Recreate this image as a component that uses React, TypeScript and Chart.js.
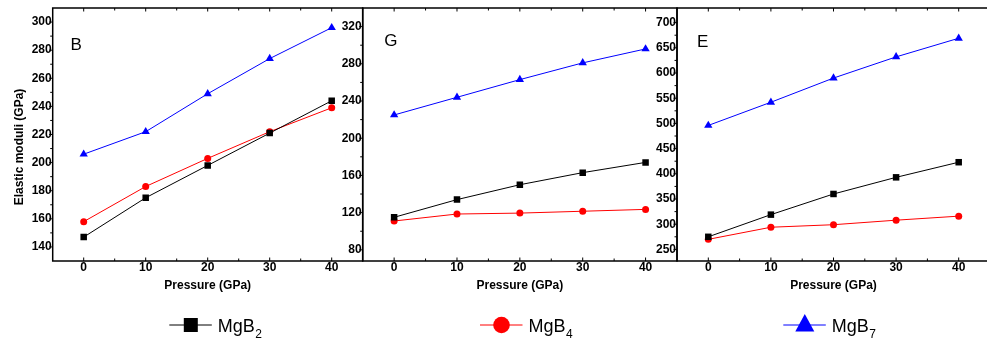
import React, { useEffect, useRef } from 'react';
import { Chart, registerables } from 'chart.js';

Chart.register(...registerables);

// ---------- data ----------
const pressureGPa = [0, 10, 20, 30, 40];
const xTickValues = [0, 10, 20, 30, 40];
const xMinorValues = [5, 15, 25, 35];

const seriesBase = ['MgB', 'MgB', 'MgB'];
const seriesSub = ['2', '4', '7'];
const panelLetters = ['B', 'G', 'E'];
const yAxisTitle = 'Elastic moduli (GPa)';
const xAxisTitle = 'Pressure (GPa)';

// Bulk modulus B
const bulkMgB2 = [147, 175, 198, 221, 244];
const bulkMgB4 = [158, 183, 203, 222, 239];
const bulkMgB7 = [206, 222, 249, 274, 296];

// Shear modulus G
const shearMgB2 = [115, 134, 150, 163, 174];
const shearMgB4 = [111, 118.5, 119.5, 121.5, 123.5];
const shearMgB7 = [225, 244, 263, 281, 296];

// Young's modulus E
const youngMgB2 = [275, 319, 360, 393, 423];
const youngMgB4 = [270, 294, 299, 308, 316];
const youngMgB7 = [496, 542, 590, 632, 669];

const bulkTicks = [140, 160, 180, 200, 220, 240, 260, 280, 300];
const bulkMinor = [150, 170, 190, 210, 230, 250, 270, 290];
const shearTicks = [80, 120, 160, 200, 240, 280, 320];
const shearMinor = [100, 140, 180, 220, 260, 300];
const youngTicks = [250, 300, 350, 400, 450, 500, 550, 600, 650, 700];
const youngMinor = [275, 325, 375, 425, 475, 525, 575, 625, 675];

// ---------- styling / layout ----------
const FONT = "'Liberation Sans', Arial, Helvetica, sans-serif";
const SERIES_COLORS = ['#000000', '#ff0000', '#0000ff'];
const SERIES_POINT = ['rect', 'circle', 'triangle'];
const SERIES_RADIUS = [4.6, 3.5, 4.8];

const PANEL_VALUES = [
  [bulkMgB2, bulkMgB4, bulkMgB7],
  [shearMgB2, shearMgB4, shearMgB7],
  [youngMgB2, youngMgB4, youngMgB7],
];
const PANEL_MAJOR = [bulkTicks, shearTicks, youngTicks];
const PANEL_MINOR = [bulkMinor, shearMinor, youngMinor];

const CANVAS_W = 1000;
const CANVAS_H = 345;

const PANEL_LAYOUT = [
  { areaLeft: 52.7, areaRight: 362.7, yMin: 130, yMax: 310, letterDx: 17.7, letterY: 50 },
  { areaLeft: 362.7, areaRight: 677, yMin: 68, yMax: 340, letterDx: 21.5, letterY: 45.7 },
  { areaLeft: 677, areaRight: 990, yMin: 227, yMax: 729, letterDx: 20, letterY: 46.7 },
];

const LEGEND_X = [169.3, 480, 783.3];

function drawLegendMarker(ctx: CanvasRenderingContext2D, kind: string, cx: number, cy: number, color: string) {
  ctx.fillStyle = color;
  if (kind === 'rect') {
    ctx.fillRect(cx - 7, cy - 7, 14, 14);
  } else if (kind === 'circle') {
    ctx.beginPath();
    ctx.arc(cx, cy, 8.3, 0, Math.PI * 2);
    ctx.fill();
  } else {
    ctx.beginPath();
    ctx.moveTo(cx, cy - 11);
    ctx.lineTo(cx - 9.5, cy + 6.5);
    ctx.lineTo(cx + 9.5, cy + 6.5);
    ctx.closePath();
    ctx.fill();
  }
}

function framePlugin(idx: number) {
  const L = PANEL_LAYOUT[idx];
  return {
    id: 'frame' + idx,
    afterDraw(chart: any) {
      const { ctx, chartArea: a, scales } = chart;
      const xs = scales.x;
      const ys = scales.y;
      ctx.save();
      ctx.strokeStyle = '#000';
      ctx.lineWidth = 1.5;
      ctx.strokeRect(a.left, a.top, a.right - a.left, a.bottom - a.top);

      ctx.lineWidth = 1;
      ctx.beginPath();
      for (const v of xTickValues) {
        const px = xs.getPixelForValue(v);
        ctx.moveTo(px, a.bottom);
        ctx.lineTo(px, a.bottom - 3.5);
        ctx.moveTo(px, a.top);
        ctx.lineTo(px, a.top + 3.5);
      }
      for (const v of xMinorValues) {
        const px = xs.getPixelForValue(v);
        ctx.moveTo(px, a.bottom);
        ctx.lineTo(px, a.bottom - 2.5);
        ctx.moveTo(px, a.top);
        ctx.lineTo(px, a.top + 2.5);
      }
      for (const v of PANEL_MAJOR[idx]) {
        const py = ys.getPixelForValue(v);
        ctx.moveTo(a.left, py);
        ctx.lineTo(a.left - 3.5, py);
      }
      for (const v of PANEL_MINOR[idx]) {
        const py = ys.getPixelForValue(v);
        ctx.moveTo(a.left, py);
        ctx.lineTo(a.left - 2.5, py);
      }
      ctx.stroke();

      ctx.fillStyle = '#000';
      ctx.font = `17px ${FONT}`;
      ctx.textAlign = 'left';
      ctx.textBaseline = 'alphabetic';
      ctx.fillText(panelLetters[idx], a.left + L.letterDx, L.letterY);

      if (idx === 0) {
        // y-axis title
        ctx.save();
        ctx.translate(20, 147);
        ctx.rotate(-Math.PI / 2);
        ctx.font = `bold 12px ${FONT}`;
        ctx.textAlign = 'center';
        ctx.textBaseline = 'middle';
        ctx.fillStyle = '#000';
        ctx.fillText(yAxisTitle, 0, 0);
        ctx.restore();

        // legend
        LEGEND_X.forEach((lx, i) => {
          const cy = 325;
          ctx.strokeStyle = SERIES_COLORS[i];
          ctx.lineWidth = 1;
          ctx.beginPath();
          ctx.moveTo(lx, cy);
          ctx.lineTo(lx + 42.5, cy);
          ctx.stroke();
          drawLegendMarker(ctx, SERIES_POINT[i], lx + 21.5, cy, SERIES_COLORS[i]);
          ctx.fillStyle = '#000';
          ctx.textAlign = 'left';
          ctx.textBaseline = 'alphabetic';
          ctx.font = `18px ${FONT}`;
          const tx = lx + 48.5;
          ctx.fillText(seriesBase[i], tx, 332);
          const w = ctx.measureText(seriesBase[i]).width;
          ctx.font = `12px ${FONT}`;
          ctx.fillText(seriesSub[i], tx + w + 0.5, 338);
        });
      }
      ctx.restore();
    },
  };
}

function buildConfig(idx: number): any {
  const L = PANEL_LAYOUT[idx];
  const values = PANEL_VALUES[idx];
  return {
    type: 'line',
    data: {
      datasets: values.map((arr, i) => ({
        label: seriesBase[i] + seriesSub[i],
        data: pressureGPa.map((p, j) => ({ x: p, y: arr[j] })),
        borderColor: SERIES_COLORS[i],
        backgroundColor: SERIES_COLORS[i],
        borderWidth: 1,
        pointStyle: SERIES_POINT[i],
        pointRadius: SERIES_RADIUS[i],
        pointBorderWidth: 0,
        tension: 0,
        fill: false,
      })),
    },
    options: {
      responsive: false,
      animation: false,
      devicePixelRatio: 1,
      events: [],
      layout: { padding: { left: 0, top: 8, right: CANVAS_W - L.areaRight, bottom: 0 } },
      plugins: { legend: { display: false }, tooltip: { enabled: false } },
      scales: {
        x: {
          type: 'linear',
          min: -5,
          max: 45,
          afterBuildTicks: (s: any) => {
            s.ticks = xTickValues.map((v) => ({ value: v }));
          },
          afterFit: (s: any) => {
            s.height = 84;
          },
          grid: { display: false, drawTicks: false },
          border: { display: false },
          ticks: {
            color: '#000',
            font: { family: FONT, size: 12, weight: 'bold' },
            padding: -1,
            maxRotation: 0,
            autoSkip: false,
          },
          title: {
            display: true,
            text: xAxisTitle,
            color: '#000',
            font: { family: FONT, size: 12, weight: 'bold' },
            padding: { top: 0, bottom: 51.8 },
          },
        },
        y: {
          type: 'linear',
          min: L.yMin,
          max: L.yMax,
          afterBuildTicks: (s: any) => {
            s.ticks = PANEL_MAJOR[idx].map((v) => ({ value: v }));
          },
          afterFit: (s: any) => {
            s.width = L.areaLeft;
          },
          grid: { display: false, drawTicks: false },
          border: { display: false },
          ticks: {
            color: '#000',
            font: { family: FONT, size: 12, weight: 'bold', lineHeight: 1 },
            padding: 1,
            autoSkip: false,
          },
        },
      },
    },
    plugins: [framePlugin(idx)],
  };
}

function Panel({ idx }: { idx: number }) {
  const ref = useRef<HTMLCanvasElement>(null);
  useEffect(() => {
    const chart = new Chart(ref.current as HTMLCanvasElement, buildConfig(idx));
    return () => chart.destroy();
  }, [idx]);
  return (
    <canvas
      ref={ref}
      width={CANVAS_W}
      height={CANVAS_H}
      style={{ position: 'absolute', left: 0, top: 0, width: CANVAS_W, height: CANVAS_H }}
    />
  );
}

export default function App() {
  return (
    <div
      style={{
        position: 'absolute',
        left: 0,
        top: 0,
        width: 987,
        height: 345,
        overflow: 'hidden',
        background: '#ffffff',
      }}
    >
      <Panel idx={0} />
      <Panel idx={1} />
      <Panel idx={2} />
    </div>
  );
}
